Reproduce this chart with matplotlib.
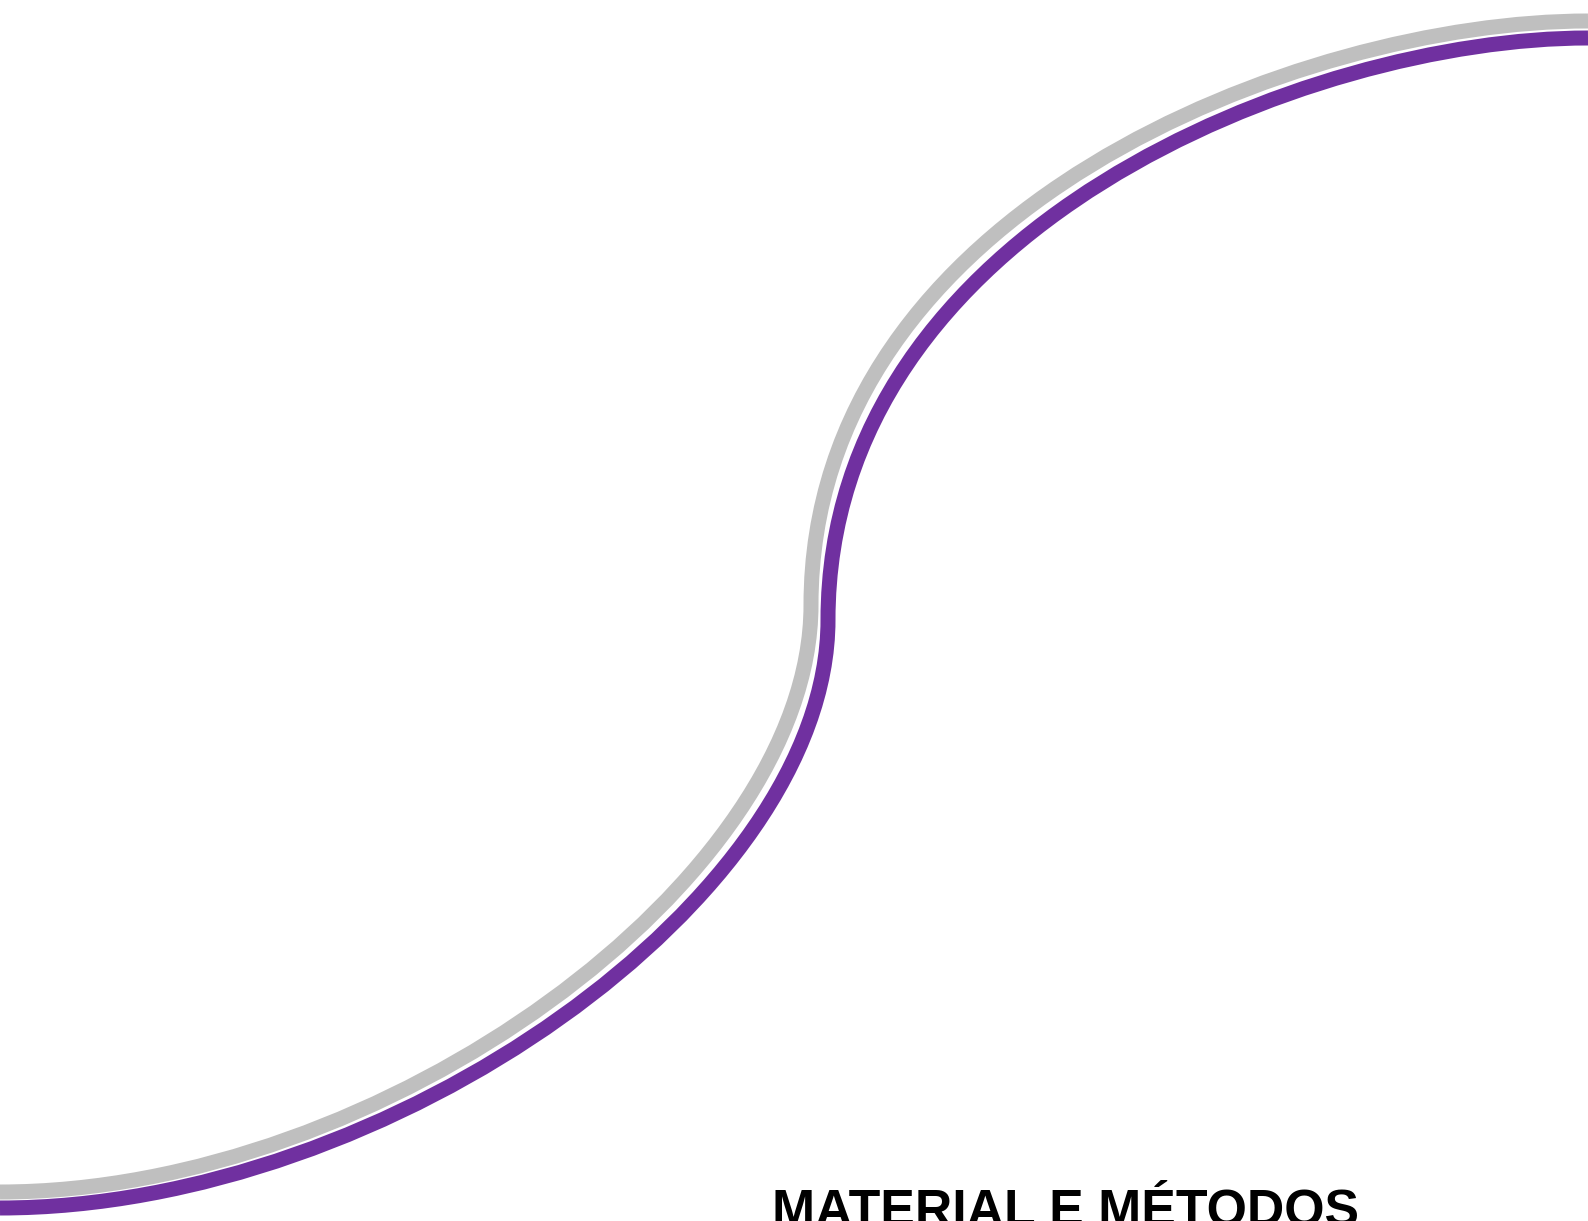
import matplotlib
matplotlib.use("Agg")
import matplotlib.pyplot as plt
from matplotlib.path import Path
from matplotlib.patches import PathPatch

W, H = 1588, 1221

# bezier control points (pixel coords, y down): two cubic halves per curve
gray_lower = [(0, 1192), (383, 1192), (811, 880), (811, 605)]
gray_upper = [(811, 605), (811, 210), (1300, 21), (1588, 21)]
purple_lower = [(0, 1208), (391, 1208), (828, 896), (828, 620)]
purple_upper = [(828, 620), (828, 228), (1308, 38), (1588, 38)]

title = "MATERIAL E MÉTODOS"

gray_color = "#BFBFBF"
purple_color = "#7030A0"


def curve(lower, upper):
    verts = lower + upper[1:]
    codes = [Path.MOVETO] + [Path.CURVE4] * 6
    return Path(verts, codes)


fig = plt.figure(figsize=(W / 100, H / 100), dpi=100)
ax = fig.add_axes([0, 0, 1, 1])
ax.set_xlim(0, W)
ax.set_ylim(H, 0)
ax.axis("off")

ax.add_patch(PathPatch(curve(gray_lower, gray_upper), fill=False,
                       edgecolor=gray_color, lw=10.8, capstyle="butt"))
ax.add_patch(PathPatch(curve(purple_lower, purple_upper), fill=False,
                       edgecolor=purple_color, lw=10.8, capstyle="butt"))

ax.text(772, 1226, title, fontsize=37.3, fontweight="bold",
        family=["Liberation Sans", "DejaVu Sans"], color="black",
        ha="left", va="baseline")

fig.savefig("out.png", dpi=100)
